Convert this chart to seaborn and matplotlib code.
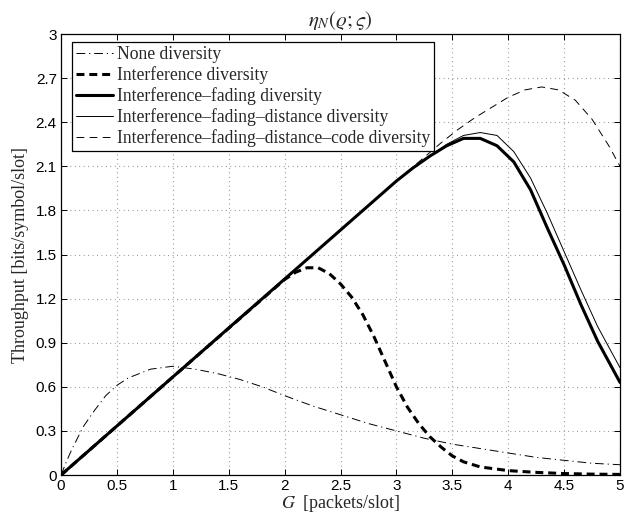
import matplotlib
matplotlib.use("Agg")
import matplotlib.pyplot as plt
import seaborn as sns

# ---------------- data ----------------
g_none = [0, 0.05, 0.1, 0.2, 0.3, 0.4, 0.5, 0.6, 0.7, 0.8, 0.9, 1.0, 1.1, 1.2, 1.4,
          1.6, 1.8, 2.0, 2.25, 2.5, 2.75, 3.0, 3.25, 3.5, 3.75, 4.0, 4.25, 4.5, 4.75, 5.0]
t_none = [0, 0.095, 0.18, 0.33, 0.44, 0.54, 0.61, 0.66, 0.69, 0.72, 0.73, 0.74, 0.73, 0.72, 0.69,
          0.65, 0.60, 0.54, 0.47, 0.41, 0.35, 0.30, 0.25, 0.21, 0.18, 0.15, 0.12, 0.10, 0.08, 0.07]

g_intf = [0, 1.0, 2.0, 2.1, 2.2, 2.3, 2.4, 2.5, 2.6, 2.7, 2.8, 2.9, 3.0, 3.1, 3.2,
          3.3, 3.4, 3.5, 3.6, 3.75, 4.0, 4.25, 4.5, 4.75, 5.0]
t_intf = [0, 0.667, 1.33, 1.38, 1.41, 1.41, 1.37, 1.30, 1.21, 1.09, 0.94, 0.77, 0.60, 0.46, 0.35,
          0.26, 0.19, 0.13, 0.09, 0.055, 0.03, 0.018, 0.01, 0.006, 0.004]

g_fad = [0, 1.0, 2.0, 3.0, 3.15, 3.3, 3.45, 3.6, 3.75, 3.9, 4.05, 4.2,
         4.35, 4.5, 4.65, 4.8, 4.95, 5.0]
t_fad = [0, 0.667, 1.333, 2.0, 2.09, 2.17, 2.24, 2.29, 2.29, 2.24, 2.13, 1.94,
         1.68, 1.43, 1.16, 0.91, 0.70, 0.63]

g_dist = [0, 1.0, 2.0, 3.0, 3.15, 3.3, 3.45, 3.6, 3.75, 3.9, 4.05, 4.2,
          4.35, 4.5, 4.65, 4.8, 4.95, 5.0]
t_dist = [0, 0.667, 1.333, 2.0, 2.09, 2.17, 2.25, 2.31, 2.33, 2.31, 2.20, 2.02,
          1.78, 1.52, 1.26, 1.01, 0.80, 0.73]

g_code = [0, 1.0, 2.0, 3.0, 3.2, 3.4, 3.55, 3.7, 3.85, 4.0, 4.15, 4.3,
          4.45, 4.6, 4.75, 4.9, 5.0]
t_code = [0, 0.667, 1.333, 2.0, 2.13, 2.26, 2.35, 2.43, 2.50, 2.57, 2.62, 2.64,
          2.62, 2.55, 2.42, 2.24, 2.10]

labels = ["None diversity",
          "Interference diversity",
          "Interference\u2013fading diversity",
          "Interference\u2013fading\u2013distance diversity",
          "Interference\u2013fading\u2013distance\u2013code diversity"]

x_ticks = [0, 0.5, 1, 1.5, 2, 2.5, 3, 3.5, 4, 4.5, 5]
x_ticklabels = ["0", "0.5", "1", "1.5", "2", "2.5", "3", "3.5", "4", "4.5", "5"]
y_ticks = [0, 0.3, 0.6, 0.9, 1.2, 1.5, 1.8, 2.1, 2.4, 2.7, 3.0]
y_ticklabels = ["0", "0.3", "0.6", "0.9", "1.2", "1.5", "1.8", "2.1", "2.4", "2.7", "3"]

# ---------------- style ----------------
sns.set_style("ticks")
plt.rcParams["font.family"] = ["Liberation Serif", "DejaVu Serif"]
plt.rcParams["mathtext.fontset"] = "stix"

fig = plt.figure(figsize=(6.24, 5.22), dpi=100)
ax = fig.add_axes([0.0978, 0.0900, 0.8958, 0.8448])

sns.lineplot(x=g_none, y=t_none, ax=ax, color="k", lw=0.7,
             linestyle=(0, (9, 4, 1.2, 4)), label=labels[0], sort=False)
sns.lineplot(x=g_intf, y=t_intf, ax=ax, color="k", lw=2.2,
             linestyle=(0, (2.6, 1.6)), label=labels[1], sort=False)
sns.lineplot(x=g_fad, y=t_fad, ax=ax, color="k", lw=2.2,
             linestyle="-", label=labels[2], sort=False)
sns.lineplot(x=g_dist, y=t_dist, ax=ax, color="k", lw=0.7,
             linestyle="-", label=labels[3], sort=False)
sns.lineplot(x=g_code, y=t_code, ax=ax, color="k", lw=0.7,
             linestyle=(0, (8, 5.5)), label=labels[4], sort=False)

ax.set_xlim(0, 5)
ax.set_ylim(0, 3)
ax.set_xticks(x_ticks)
ax.set_xticklabels(x_ticklabels, family="Liberation Sans", fontsize=11)
ax.set_yticks(y_ticks)
ax.set_yticklabels(y_ticklabels, family="Liberation Sans", fontsize=11)
ax.tick_params(direction="in", length=4, width=0.7, top=True, right=True,
               pad=3, colors="k")
ax.grid(True, color="0.55", lw=0.8, linestyle=(0, (0.8, 3.2)))
for sp in ax.spines.values():
    sp.set_visible(True)
    sp.set_linewidth(0.9)
    sp.set_color("k")

ax.set_xlabel(r"$G$  [packets/slot]", fontsize=13, labelpad=0)
ax.set_ylabel("Throughput [bits/symbol/slot]", fontsize=13, labelpad=5)
ax.set_title(r"$\eta_N(\varrho;\varsigma)$", fontsize=15, pad=6)

leg = ax.legend(loc="upper left", bbox_to_anchor=(0.0197, 0.982),
                borderaxespad=0, fancybox=False, framealpha=1, edgecolor="k",
                fontsize=12.7, handlelength=2.1, handletextpad=0.23,
                labelspacing=0.18, borderpad=0.22)
leg.get_frame().set_linewidth(0.9)

fig.savefig("out.png", dpi=100)
